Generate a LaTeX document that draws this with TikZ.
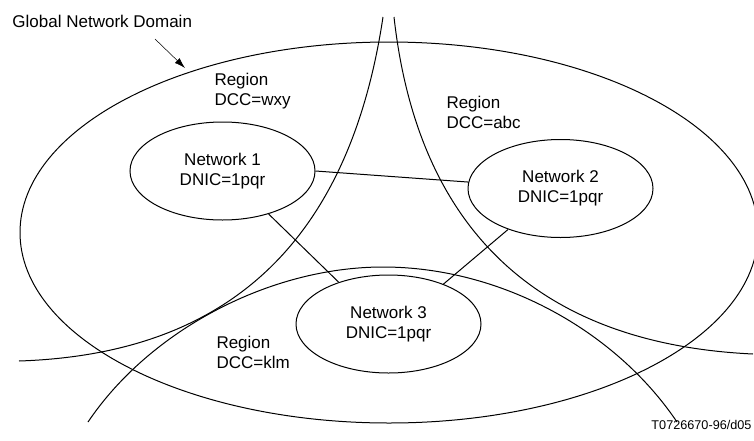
\documentclass[tikz,border=0pt]{standalone}
\usepackage{fontspec}
\setmainfont{Liberation Sans}
\usetikzlibrary{shapes.geometric,arrows.meta}
\begin{document}
\begin{tikzpicture}[x=0.75pt,y=-0.75pt,line width=0.75pt,
  txt/.style={font=\fontsize{12.75}{15}\selectfont},
  net/.style={draw,ellipse,minimum width=138.75pt,minimum height=73.5pt,inner sep=0pt,align=center,txt},
  lbl/.style={align=left,inner sep=0pt,anchor=west,txt},
  link/.style={line width=0.75pt},
  pointer/.style={line width=0.4pt,-{Latex[length=8pt,width=5pt]}}]
\useasboundingbox (0,0) rectangle (754,440);
% global domain
\draw (389,232.5) ellipse [x radius=369, y radius=190.5];
% region boundaries
\coordinate (wT) at (383,17);
\coordinate (wE) at (19,361);
\coordinate (aT) at (394,17);
\coordinate (aE) at (753,354);
\coordinate (kL) at (88,422);
\coordinate (kM) at (383,267);
\coordinate (kR) at (677,422);
\draw (wT) .. controls (345,270) and (200,355) .. (wE);
\draw (aT) .. controls (420,250) and (560,345) .. (aE);
\draw (kL) .. controls (150,330) and (270,267) .. (kM) .. controls (500,267) and (615,330) .. (kR);
% networks
\node[net] (n1) at (222.5,171) {Network 1\\DNIC=1pqr};
\node[net] (n2) at (560.5,188.5) {Network 2\\DNIC=1pqr};
\node[net] (n3) at (388.5,324) {Network 3\\DNIC=1pqr};
\draw[link] (n1.east) -- (n2.176);
\draw[link] (n1.-43) -- (n3.140);
\draw[link] (n2.218) -- (n3.36);
% labels
\node[lbl] (gnd) at (12,21) {Global Network Domain};
\coordinate (pS) at (155,39);
\coordinate (pE) at (185,68);
\draw[pointer] (pS) -- (pE);
\node[lbl] (rw) at (214,91) {Region\\DCC=wxy};
\node[lbl] (ra) at (446,112) {Region\\DCC=abc};
\node[lbl] (rk) at (216,352.5) {Region\\DCC=klm};
\node[font=\fontsize{9.5}{11}\selectfont,anchor=east,inner sep=0pt] (ref) at (752,425) {T0726670-96/d05};
\end{tikzpicture}
\end{document}
